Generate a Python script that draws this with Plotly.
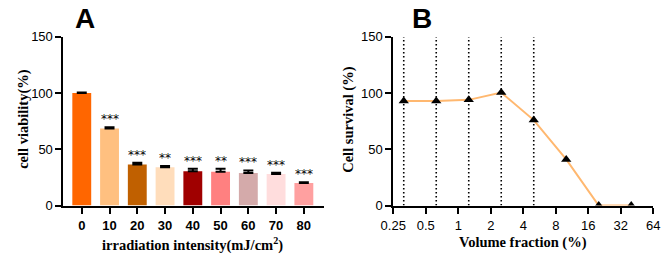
import plotly.graph_objects as go

# Panel A data
intensity = ["0", "10", "20", "30", "40", "50", "60", "70", "80"]
viability = [100, 68.5, 36.5, 34, 30.5, 30, 29, 28, 20]
viability_err = [0.5, 1.2, 1.5, 1.3, 2.2, 2.8, 2.2, 1.2, 0.8]
signif = ["", "***", "***", "**", "***", "**", "***", "***", "***"]
bar_colors = ["#FF6600", "#FFC080", "#C06000", "#FFDDBB", "#A00000",
              "#FF8080", "#D4AAAA", "#FFDDDD", "#FFA0A0"]

# Panel B data
volume_fraction = [0.3125, 0.625, 1.25, 2.5, 5, 10, 20, 40]
survival = [93, 93, 94, 100.5, 76, 41, 0, 0]
dotted_x = [0.3125, 0.625, 1.25, 2.5, 5]
b_ticks = [0.25, 0.5, 1, 2, 4, 8, 16, 32, 64]
b_tick_labels = ["0.25", "0.5", "1", "2", "4", "8", "16", "32", "64"]

W, H = 669, 261
ydom = [(H - 210.7) / H, (H - 31.7) / H]
tickfont = dict(family="Liberation Sans, Arial", size=13, color="black")
serif = "Liberation Serif, Times New Roman"
titlefont = dict(family=serif, size=14.5, color="black")

fig = go.Figure()

fig.add_trace(go.Bar(
    x=intensity, y=viability, marker=dict(color=bar_colors, line=dict(width=0)),
    width=0.68,
    error_y=dict(type="data", symmetric=False, array=viability_err,
                 arrayminus=[0] * len(viability), color="black", thickness=2, width=5),
    xaxis="x", yaxis="y", showlegend=False,
))

for i, (v, e, s) in enumerate(zip(viability, viability_err, signif)):
    if s:
        fig.add_annotation(x=i, y=v + e, text=s, xref="x", yref="y",
                           yanchor="bottom", yshift=-1, showarrow=False,
                           font=dict(family="DejaVu Sans", size=12, color="black"))

fig.add_trace(go.Scatter(
    x=volume_fraction, y=survival, mode="lines+markers",
    line=dict(color="#FFB870", width=2),
    marker=dict(symbol="triangle-up", size=9, color="black"),
    xaxis="x2", yaxis="y2", showlegend=False,
))

for xv in dotted_x:
    fig.add_shape(type="line", x0=xv, x1=xv, y0=0, y1=150, xref="x2", yref="y2",
                  line=dict(color="black", width=1.6, dash="1.6px,2.4px"), layer="below")

axis_common = dict(showline=True, linecolor="black", linewidth=2, ticks="outside",
                   ticklen=6, tickwidth=1.5, tickcolor="black", showgrid=False,
                   zeroline=False, tickfont=tickfont,
                   tickprefix="<b>", ticksuffix="</b>")

fig.update_layout(
    width=W, height=H, margin=dict(l=0, r=0, t=0, b=0),
    plot_bgcolor="white", paper_bgcolor="white",
    xaxis=dict(domain=[52 / W, 321 / W], range=[-0.66, 8.74], anchor="y",
               ticklabelstandoff=1, **axis_common),
    yaxis=dict(domain=ydom, range=[0, 150], tickvals=[0, 50, 100, 150], anchor="x",
               **axis_common),
    xaxis2=dict(domain=[392 / W, 660 / W], type="log", range=[-2 * 0.30103, 6 * 0.30103],
                tickvals=b_ticks, ticktext=b_tick_labels, anchor="y2",
                ticklabelstandoff=1, **axis_common),
    yaxis2=dict(domain=ydom, range=[0, 150], tickvals=[0, 50, 100, 150], anchor="x2",
                **axis_common),
)

# axis titles
def paper_xy(px, py):
    return px / W, 1 - py / H

for text, (px, py), ang in [
    ("<b>irradiation intensity(mJ/cm<sup>2</sup>)</b>", (185, 252), 0),
    ("<b>cell viability(%)</b>", (10, 119), -90),
    ("<b>Volume fraction (%)</b>", (526, 250), 0),
    ("<b>Cell survival (%)</b>", (345, 120), -90),
]:
    x, y = paper_xy(px, py)
    fig.add_annotation(text=text, x=x, y=y, xref="paper", yref="paper",
                       xanchor="center", yanchor="middle", textangle=ang,
                       showarrow=False, font=titlefont)

for text, px in [("<b>A</b>", 62), ("<b>B</b>", 409)]:
    x, y = paper_xy(px, 12)
    fig.add_annotation(text=text, x=x, y=y, xref="paper", yref="paper",
                       xanchor="left", yanchor="middle", showarrow=False,
                       font=dict(family="Liberation Sans, Arial", size=28, color="black"))

fig.write_html("out.html")
